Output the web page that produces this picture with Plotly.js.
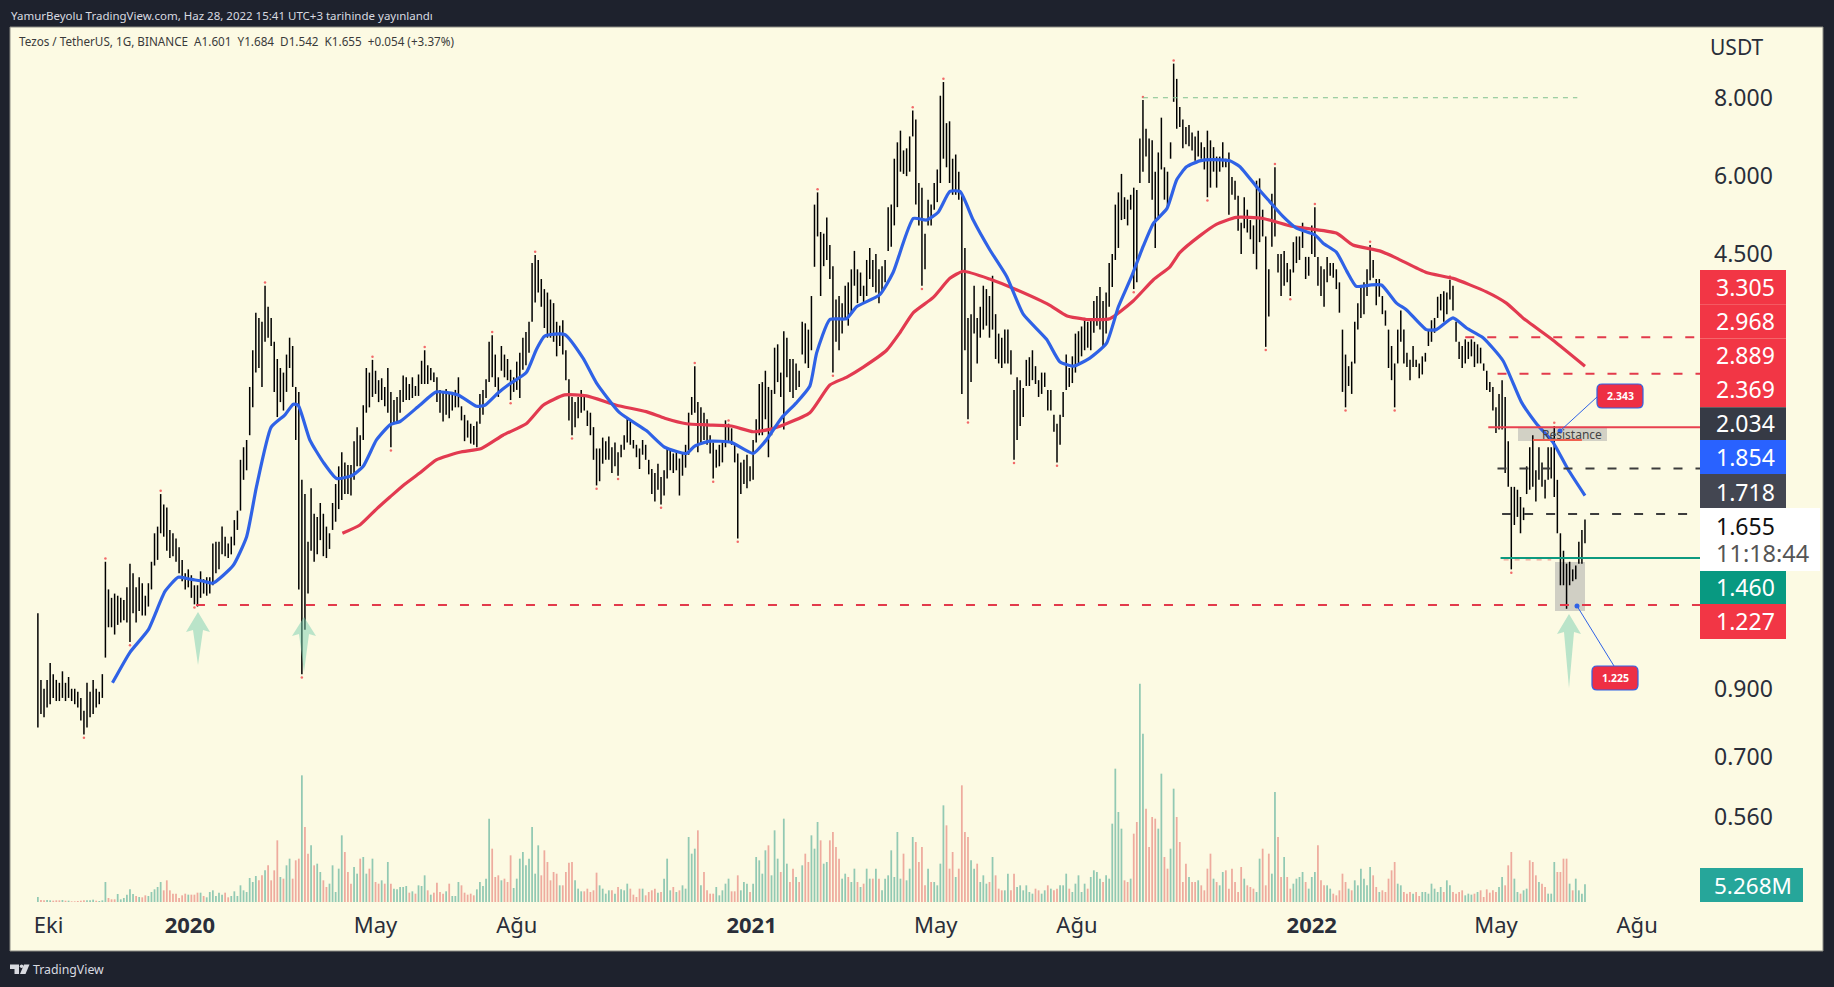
<!DOCTYPE html>
<html><head><meta charset="utf-8">
<script src="https://cdn.plot.ly/plotly-3.0.1.min.js"></script>
<style>html,body{margin:0;padding:0;background:#1e222d;overflow:hidden}</style>
</head><body><div id="chart" style="width:1834px;height:987px"></div>
<script>
// Two-day bars, starting 2019-09-24. High / low in USDT.
const highs = [
1.19,.93,.90,.93,.99,.95,.93,.92,.96,.92,
.94,.90,.90,.89,.87,.83,.92,.89,.93,.90,
.89,.95,1.44,1.30,1.26,1.28,1.27,1.26,1.25,1.31,
1.43,1.38,1.31,1.36,1.33,1.27,1.33,1.44,1.60,1.64,
1.85,1.78,1.76,1.62,1.60,1.57,1.52,1.45,1.38,1.40,
1.37,1.32,1.32,1.39,1.35,1.36,1.36,1.54,1.55,1.55,
1.64,1.58,1.54,1.58,1.68,1.74,2.10,2.20,2.26,2.75,
3.15,3.62,3.55,3.50,4.00,3.70,3.55,3.25,3.05,2.95,
2.90,3.10,3.30,3.20,2.75,2.70,1.95,1.85,1.55,1.89,
1.72,1.70,1.79,1.72,1.64,1.60,1.79,1.92,2.05,2.16,
2.08,2.06,2.06,2.25,2.37,2.30,2.57,2.95,2.90,3.04,
2.92,2.82,2.84,2.75,2.95,2.70,2.62,2.65,2.72,2.87,
2.85,2.78,2.85,2.76,2.88,
3.03,3.15,2.98,2.95,2.90,2.85,2.72,2.70,2.73,2.70,
2.70,2.72,2.85,2.56,2.48,2.43,2.40,2.38,2.42,2.68,
2.72,2.83,3.25,3.33,3.10,2.85,3.20,3.10,3.05,2.93,
2.85,3.02,3.12,3.30,3.37,3.50,4.35,4.48,4.40,4.10,
3.95,3.90,3.80,3.75,3.50,3.45,3.52,3.15,2.83,2.65,
2.60,2.65,2.72,2.65,2.52,2.50,2.37,2.19,2.19,2.28,
2.25,2.29,2.20,2.24,2.16,2.22,2.30,2.45,2.42,2.26,
2.22,2.19,2.26,2.22,2.10,2.03,2.00,2.07,1.97,2.02,
2.20,2.18,2.15,2.16,2.11,2.16,2.22,2.50,2.65,2.97,
2.60,2.55,2.50,2.44,2.30,2.24,2.18,2.22,2.26,2.43,
2.40,2.36,2.22,2.15,2.08,2.10,2.14,2.05,2.26,2.44,
2.78,2.80,2.92,2.75,2.72,3.18,3.22,2.90,3.38,3.30,
3.05,3.05,3.00,2.92,3.50,3.48,3.40,
3.85,5.40,5.65,4.88,4.85,5.15,4.65,4.30,3.80,3.85,
3.75,4.00,4.05,4.25,4.55,4.25,4.20,4.00,4.40,4.60,
4.40,4.50,4.25,4.30,4.40,5.35,5.40,6.40,6.80,7.10,
6.60,6.65,6.95,7.65,7.40,5.85,5.75,4.85,5.50,5.40,
5.85,6.15,8.08,8.50,7.30,7.35,6.40,6.50,6.10,5.60,
4.60,3.55,3.60,4.00,3.55,3.70,4.00,3.95,3.85,4.15,
3.60,3.35,3.30,3.40,3.40,3.15,2.72,2.85,2.82,2.74,
3.04,3.07,3.15,2.97,2.82,2.90,2.90,2.72,2.72,2.48,
2.40,2.48,2.70,3.10,2.95,3.08,3.35,3.38,3.44,3.55,
3.50,3.55,3.78,3.85,3.98,3.78,3.90,4.35,4.50,5.40,
5.65,6.05,5.55,5.50,5.60,5.75,5.70,6.90,7.95,7.15,
6.90,6.85,6.10,6.55,7.45,6.20,6.10,6.80,9.10,8.60,
7.75,7.40,7.20,7.25,7.05,6.95,7.10,
6.80,6.68,7.10,6.85,6.68,6.45,6.45,6.80,6.40,6.55,
5.98,5.90,5.58,5.05,5.55,5.30,5.10,5.00,5.90,5.95,
5.30,4.80,4.25,5.62,6.20,4.50,4.50,4.55,4.35,4.25,
4.70,4.80,4.80,5.05,4.45,4.45,5.00,5.35,4.45,4.30,
4.25,4.45,4.35,4.35,4.25,4.05,3.40,3.10,2.97,3.02,
3.50,3.75,4.00,4.05,4.25,4.65,4.40,4.10,4.10,3.85,
3.65,3.40,3.20,3.00,3.40,3.65,3.40,3.12,3.04,3.20,
3.04,3.00,3.08,3.12,3.40,3.52,3.55,3.84,3.88,3.92,
3.90,4.09,4.00,3.50,3.25,3.20,3.28,3.25,3.28,3.25,
3.22,3.18,3.00,2.92,2.80,2.75,2.55,2.68,2.82,2.65,
2.25,1.90,1.90,1.88,1.83,1.76,2.05,2.20,2.30,2.02,
2.20,2.08,1.95,2.20,2.20,2.38,1.95,1.60,1.50,1.43,
1.44,1.40,1.42,1.55,1.62,1.684];
const lows = [
.78,.82,.81,.84,.85,.87,.86,.86,.87,.86,
.87,.86,.85,.84,.80,.76,.78,.81,.82,.84,
.85,.87,1.01,1.13,1.13,1.10,1.14,1.15,1.16,1.15,
1.07,1.19,1.15,1.20,1.18,1.18,1.22,1.30,1.42,1.45,
1.60,1.58,1.50,1.46,1.47,1.44,1.38,1.34,1.30,1.31,
1.26,1.23,1.22,1.26,1.28,1.27,1.28,1.32,1.38,1.40,
1.48,1.47,1.46,1.48,1.53,1.62,1.74,1.95,2.02,2.30,
2.55,2.90,2.95,2.75,3.25,3.30,3.20,2.70,2.46,2.60,
2.52,2.70,2.95,2.75,2.26,1.30,.95,1.12,1.28,1.50,
1.44,1.48,1.56,1.47,1.46,1.51,1.62,1.67,1.75,1.81,
1.85,1.85,1.84,1.95,2.05,2.05,2.26,2.50,2.55,2.65,
2.68,2.60,2.62,2.56,2.50,2.20,2.40,2.42,2.50,2.60,
2.62,2.62,2.64,2.66,2.66,
2.78,2.78,2.78,2.82,2.80,2.60,2.50,2.42,2.48,2.45,
2.52,2.55,2.55,2.43,2.25,2.28,2.23,2.22,2.20,2.40,
2.48,2.64,2.80,2.85,2.75,2.65,2.92,2.85,2.82,2.62,
2.70,2.72,2.64,2.93,2.98,3.12,3.50,3.76,3.90,3.70,
3.42,3.30,3.30,3.25,3.08,3.20,3.10,2.82,2.43,2.30,
2.37,2.45,2.50,2.52,2.38,2.30,2.10,1.91,1.94,2.07,
2.10,2.10,2.00,2.05,1.98,2.12,2.18,2.24,2.22,2.19,
2.12,2.03,2.14,2.10,1.99,1.85,1.80,1.88,1.78,1.84,
1.96,2.02,2.00,2.02,1.84,1.98,2.04,2.14,2.48,2.50,
2.16,2.22,2.26,2.22,2.15,1.96,2.04,2.05,2.08,2.20,
2.24,2.22,2.08,1.57,1.85,1.92,1.89,1.94,1.95,2.24,
2.30,2.30,2.44,2.12,2.30,2.68,2.80,2.65,2.35,2.85,
2.70,2.64,2.72,2.75,3.10,3.00,2.95,
3.15,4.29,4.80,3.85,4.30,4.40,4.10,2.90,3.25,3.15,
3.35,3.55,3.45,3.60,4.00,3.75,3.85,3.75,3.85,4.10,
3.98,3.90,3.75,3.90,4.05,4.55,4.62,5.00,5.35,6.10,
6.05,6.00,6.10,6.95,5.40,5.00,4.00,4.25,5.00,5.00,
5.30,5.45,5.85,6.40,6.20,5.85,5.60,5.60,5.50,2.68,
3.15,2.44,2.80,3.35,3.00,3.30,3.40,3.45,3.30,3.40,
3.05,3.00,2.95,3.00,3.00,2.88,2.10,2.26,2.38,2.46,
2.76,2.76,2.82,2.78,2.65,2.68,2.75,2.52,2.52,2.33,
2.08,2.22,2.46,2.72,2.75,2.79,2.90,3.00,3.08,3.15,
3.18,3.15,3.36,3.45,3.40,3.20,3.35,3.70,3.98,4.40,
4.60,5.10,5.12,5.00,5.30,3.95,4.05,5.85,6.10,6.45,
5.85,5.50,4.60,5.10,6.15,5.50,5.35,6.40,7.90,7.15,
7.20,6.65,6.75,6.70,6.60,6.35,6.45,
6.40,6.15,5.55,5.75,6.10,5.75,6.10,6.20,6.20,5.20,
5.60,5.50,4.90,4.50,4.95,4.87,4.75,4.50,4.25,4.70,
4.80,3.19,3.57,4.62,4.80,4.20,3.85,4.00,4.05,3.85,
4.20,4.35,4.40,4.60,4.10,4.15,4.50,4.45,4.00,3.85,
3.70,4.05,4.15,4.12,3.95,3.62,2.70,2.55,2.76,2.68,
3.00,3.40,3.55,3.60,3.85,4.08,4.12,3.72,3.84,3.60,
3.45,2.95,2.82,2.55,3.00,3.25,3.00,2.96,2.82,2.96,
2.96,2.84,2.88,3.02,3.20,3.25,3.36,3.55,3.65,3.50,
3.60,3.80,3.65,3.25,3.05,2.95,3.00,3.05,3.08,2.96,
3.00,3.00,2.92,2.72,2.70,2.52,2.32,2.35,2.35,2.00,
1.90,1.40,1.65,1.70,1.60,1.68,1.85,1.88,1.90,1.80,
1.95,1.90,1.82,1.95,1.96,1.83,1.60,1.32,1.32,1.21,
1.32,1.34,1.35,1.43,1.43,1.542];
// Volume for the same bars, in units of 100 thousand.
const volumes = [
15,6,5,6,5,4,5,5,6,4,4,2,2,3,4,5,5,5,7,4,3,5,60,12,8,8,24,8,12,22,
38,24,18,15,14,20,18,30,38,45,60,35,65,35,25,25,12,20,25,22,22,22,28,28,18,14,30,35,18,28,
22,28,14,18,32,18,50,35,30,72,60,78,65,80,95,110,65,95,185,75,70,110,130,70,125,130,380,225,145,170,
110,115,90,65,45,55,110,30,100,200,150,90,55,105,85,130,135,85,100,130,60,55,65,55,120,55,40,38,45,45,
48,28,32,25,50,48,80,35,22,28,58,30,25,32,55,18,18,60,50,28,22,25,20,38,60,48,70,250,160,75,
80,65,70,60,140,42,70,130,150,110,130,225,85,170,80,155,120,
65,90,85,50,50,90,118,120,65,40,32,32,40,30,35,88,50,40,25,35,35,25,45,38,35,55,40,22,15,40,
40,20,30,35,40,28,30,70,130,35,45,30,35,50,40,195,145,160,215,50,90,35,25,25,45,20,35,55,70,32,
32,80,35,60,55,30,55,135,125,85,155,170,80,215,130,90,250,115,60,100,75,60,110,145,120,200,160,240,185,115,
120,185,210,165,130,70,85,75,60,100,60,45,55,100,70,70,100,70,35,70,80,155,75,210,70,145,65,100,195,180,
120,165,50,100,60,60,50,115,290,230,100,150,75,100,350,210,195,125,100,115,60,80,55,60,135,80,40,35,35,85,
35,85,45,50,35,50,30,25,40,35,25,35,50,40,35,40,50,50,85,40,
30,55,80,30,55,40,75,95,90,70,60,80,70,235,400,270,220,65,60,70,205,240,655,505,280,165,255,250,220,385,
135,100,160,340,255,180,60,115,75,60,60,65,50,35,100,145,70,60,50,90,95,40,100,60,30,105,70,50,45,40,
30,130,160,50,145,85,330,195,75,135,75,40,55,70,75,90,60,40,75,90,170,65,50,50,40,25,20,35,85,60,
40,35,65,50,100,70,50,105,80,45,30,35,30,70,95,120,55,50,30,25,30,25,30,18,30,30,25,55,40,30,
45,30,65,50,30,25,30,35,20,25,22,25,30,35,15,38,28,35,30,45,75,50,110,150,70,30,25,35,40,125,
120,80,60,55,45,25,25,120,90,90,130,130,55,35,70,35,25,53];
// Colours of the tall volume bars as seen in the picture; the others follow the bar's direction.
const volumeUpBars = [22,86,147,212,240,243,254,295,351,359,360,366,370,403];
const volumeDownBars = [78,87,148,215,288,301,358,361,371,480,486,487];
// Moving averages: position in two-day bars and value in USDT.
const blueBars = [24.3,30,36,41.4,45.7,49.5,53.9,57,63.6,68,71.2,76,80.5,83.2,84.8,88.6,93,97.3,102.2,106,110.3,114.7,118,124.4,
129.8,136.9,142.9,145.6,149.9,153.2,159.1,162.4,165.1,171.6,177.6,182,189.5,198.2,204.2,211.3,214,218.9,225.9,233,237.3,242.2,247,251.5,
253.7,258,263.4,266.7,274.3,278.6,285.2,289.5,293.3,297.1,300.4,304.7,310.1,315.6,321,328.6,332.9,337.3,342.7,348.1,352,356.3,360.1,363.4,367.8,371,374.2,378.5,
382.8,388.3,391.5,397,401.3,405.6,410,416,418.7,423,426.3,429.5,433.9,437.7,442.6,445.8,452.3,455.6,461,465.4,470.8,477.3,483.3,488.2,493.6,498.4,504];
const blueValues = [.92,1.03,1.12,1.29,1.36,1.35,1.34,1.33,1.42,1.58,1.90,2.37,2.48,2.58,2.57,2.26,2.08,1.96,1.98,2.05,2.26,2.39,2.42,2.57,
2.70,2.67,2.56,2.57,2.69,2.77,2.90,3.16,3.32,3.34,3.06,2.79,2.50,2.34,2.20,2.15,2.21,2.25,2.24,2.15,2.26,2.45,2.59,2.76,
3.12,3.53,3.54,3.70,3.87,4.20,5.13,5.10,5.25,5.67,5.67,5.10,4.57,4.14,3.60,3.28,3.02,2.97,3.06,3.23,3.70,4.14,4.63,5.04,5.32,5.92,6.21,6.35,
6.38,6.35,6.22,5.77,5.46,5.17,4.95,4.83,4.68,4.53,4.23,3.99,4.01,4.01,3.75,3.66,3.40,3.40,3.55,3.42,3.30,3.03,2.60,2.40,2.24,2.03,1.84];
const redBars = [99.2,104.9,110.3,114.7,119,124.4,129.8,137.4,144.5,151.5,159.1,164.6,171.6,178.7,188.5,198.2,204.2,211.3,217.8,225.9,233,238.4,243.8,251.5,
258,263.4,268.9,276.5,280.8,285.2,291.7,297.1,301.4,310.1,318.8,329.7,335.1,341.6,349.2,356.8,363.4,368.8,372,378.5,
383.9,390.4,399.1,408.9,423,428.4,437.1,442.6,452.3,461,471.9,478.4,483.8,493.6,504];
const redValues = [1.60,1.65,1.75,1.83,1.91,2.00,2.10,2.16,2.19,2.30,2.40,2.57,2.67,2.66,2.57,2.51,2.45,2.40,2.39,2.38,2.33,2.35,2.40,2.50,
2.77,2.85,2.96,3.15,3.36,3.62,3.83,4.11,4.22,4.10,3.94,3.72,3.58,3.53,3.54,3.78,4.09,4.29,4.52,4.81,
5.02,5.15,5.13,4.98,4.86,4.65,4.55,4.43,4.20,4.11,3.91,3.75,3.55,3.27,2.97];
// Small swing markers: bar positions.
const swingHighs = [22,40,74,109,126,148,162,214,225,254,285,295,360,370,403,416,434,460,494];
const swingLows = [15,30,51,86,115,154,174,182,189,203,220,228,259,288,303,318,332,357,381,400,408,426,442,480];
// Horizontal levels: value, start, end, colour, dash, width.
const levelValues = [3.305,2.889,2.369,2.034,1.718,1.46,1.227,8.02,2.26,1.45];
const levelStarts = ['2022-04-11','2022-05-02','2022-04-26','2022-05-02','2022-05-05','2022-05-04','2020-01-05','2021-09-13','2022-05-25','2022-05-06'];
const levelEnds = ['2022-09-11','2022-09-11','2022-09-11','2022-09-11','2022-09-03','2022-09-11','2022-09-11','2022-06-23','2022-06-26','2022-06-06'];
const levelColors = ['#e23a4b','#e23a4b','#e8404f','#3c3c3c','#3c3c3c','#0d9a80','#e23a4b','#7fc08f','#f0604f','#f08a80'];
const levelDashes = ['9px,13px','9px,13px','solid','9px,13px','9px,13px','solid','9px,13px','5px,5px','solid','5px,6px'];
const levelWidths = [2,2,2,2,2,2,2,1,2,1];
// Axis labels.
const xTickDates = ['2019-10-01','2020-01-01','2020-05-01','2020-08-01','2021-01-01','2021-05-01','2021-08-01','2022-01-01','2022-05-01','2022-08-01'];
const xTickText = ['Eki','<b>2020</b>','May','Ağu','<b>2021</b>','May','Ağu','<b>2022</b>','May','Ağu'];
const yTickValues = [0.56,0.7,0.9,4.5,6,8];
const yTickText = ['0.560','0.700','0.900','4.500','6.000','8.000'];
// Price-scale tags.
const tagText = ['3.305','2.968','2.889','2.369','2.034','1.854','1.718','1.460','1.227'];
const tagColor = ['#f23645','#f23645','#f23645','#f23645','#363a45','#2962ff','#434651','#089981','#f23645'];

const FONT='"Noto Sans",sans-serif';
const W=1834,H=987,L=10,R=1823,T=27,B=951;
const px=x=>(x-L)/(R-L), py=y=>(B-y)/(B-T);
const barDate=i=>new Date(Date.UTC(2019,8,24)+i*2*864e5).toISOString().slice(0,19).replace('T',' ');

// wick segments
const wx=[],wy=[];
highs.forEach((h,i)=>{const d=barDate(i);wx.push(d,d,null);wy.push(h,lows[i],null);});
const UP='#92c9b3',DOWN='#eeab9e';
const volColors=volumes.map((v,i)=>{
  if(volumeUpBars.includes(i))return UP;
  if(volumeDownBars.includes(i))return DOWN;
  return (i===0||highs[i]+lows[i]>=highs[i-1]+lows[i-1])?UP:DOWN;
});

const traces=[
 {type:'bar',x:volumes.map((v,i)=>barDate(i)),y:volumes,yaxis:'y2',width:1.15*864e5,marker:{color:volColors,line:{width:0}},hoverinfo:'skip'},
 {type:'scatter',mode:'lines',x:wx,y:wy,line:{color:'#000',width:1.5},hoverinfo:'skip',connectgaps:false},
 {type:'scatter',mode:'markers',x:swingHighs.map(barDate),y:swingHighs.map(i=>highs[i]*1.012),marker:{color:'#f26a6a',size:2.5},hoverinfo:'skip'},
 {type:'scatter',mode:'markers',x:swingLows.map(barDate),y:swingLows.map(i=>lows[i]*0.988),marker:{color:'#f26a6a',size:2.5},hoverinfo:'skip'},
 {type:'scatter',mode:'lines',x:redBars.map(barDate),y:redValues,line:{color:'#e23a50',width:3.2,shape:'spline',smoothing:.5},hoverinfo:'skip'},
 {type:'scatter',mode:'lines',x:blueBars.map(barDate),y:blueValues,line:{color:'#2f62e6',width:3.2,shape:'spline',smoothing:.5},hoverinfo:'skip'}
];
levelValues.forEach((v,i)=>traces.push({type:'scatter',mode:'lines',x:[levelStarts[i],levelEnds[i]],y:[v,v],
  line:{color:levelColors[i],dash:levelDashes[i],width:levelWidths[i]},hoverinfo:'skip'}));

const shapes=[];
const rect=(x0,y0,x1,y1,fill,layer)=>shapes.push({type:'rect',xref:'paper',yref:'paper',x0:px(x0),x1:px(x1),y0:py(y0),y1:py(y1),fillcolor:fill,line:{width:0},layer:layer||'above'});
const poly=(pts,fill)=>shapes.push({type:'path',xref:'paper',yref:'paper',path:'M'+pts.map(p=>px(p[0])+','+py(p[1])).join('L')+'Z',fillcolor:fill,line:{width:0},layer:'above'});
const seg=(x0,y0,x1,y1)=>shapes.push({type:'line',xref:'paper',yref:'paper',x0:px(x0),x1:px(x1),y0:py(y0),y1:py(y1),line:{color:'#2f62e6',width:1},layer:'above'});
const dot=(x,y)=>shapes.push({type:'circle',xref:'paper',yref:'paper',x0:px(x-2.5),x1:px(x+2.5),y0:py(y-2.5),y1:py(y+2.5),fillcolor:'#2f62e6',line:{width:0},layer:'above'});
const round=(x0,y0,x1,y1,r)=>shapes.push({type:'path',xref:'paper',yref:'paper',layer:'above',fillcolor:'#ee2f44',line:{color:'#2f62e6',width:1.2},
  path:`M${px(x0+r)},${py(y0)}L${px(x1-r)},${py(y0)}Q${px(x1)},${py(y0)} ${px(x1)},${py(y0+r)}L${px(x1)},${py(y1-r)}Q${px(x1)},${py(y1)} ${px(x1-r)},${py(y1)}L${px(x0+r)},${py(y1)}Q${px(x0)},${py(y1)} ${px(x0)},${py(y1-r)}L${px(x0)},${py(y0+r)}Q${px(x0)},${py(y0)} ${px(x0+r)},${py(y0)}Z`});

// grey zones
rect(1518,428,1607,441,'#d2d1c5','below');
rect(1555,562,1585,611,'#d0cfc4','below');
// arrows
const arrow=(cx,tip,headY,end,hw)=>poly([[cx,tip],[cx+hw,headY],[cx+5,headY-2],[cx,end],[cx-5,headY-2],[cx-hw,headY]],'rgba(120,205,175,0.5)');
arrow(198,612,632,665,12);
arrow(304,617,636,672,12);
arrow(1569,614,634,688,12);
// callouts
seg(1560,431,1597,397); seg(1577,606,1614,666);
dot(1560,431); dot(1577,606);
round(1597,384,1643,408,5);
round(1592,666,1638,690,5);
// price tags
const tagTop=[270,304.3,338.6,372.9,407.2,440,474,571,604];
const tagBot=[304.3,338.6,372.9,407.2,440,474,508,604,639];
tagText.forEach((t,i)=>rect(1700,tagTop[i],1786,tagBot[i],tagColor[i]));
rect(1700,508,1820,571,'#ffffff');
rect(1700,868,1803,902,'#26a69a');
// panel border
shapes.push({type:'rect',xref:'paper',yref:'paper',x0:0,x1:1,y0:0,y1:1,line:{color:'#8b8b84',width:1},layer:'above',fillcolor:'rgba(0,0,0,0)'});
// logo
const logoH=[[10,964.5],[19,964.5],[19,974],[14.5,974],[14.5,969],[10,969]];
shapes.push({type:'path',xref:'paper',yref:'paper',layer:'above',fillcolor:'#d8dae0',line:{width:0},
  path:'M'+logoH.map(p=>px(p[0])+','+py(p[1])).join('L')+'Z'});
shapes.push({type:'path',xref:'paper',yref:'paper',layer:'above',fillcolor:'#d8dae0',line:{width:0},
  path:'M'+[[24,964.5],[29.5,964.5],[25.5,974],[20,974]].map(p=>px(p[0])+','+py(p[1])).join('L')+'Z'});
shapes.push({type:'circle',xref:'paper',yref:'paper',layer:'above',fillcolor:'#d8dae0',line:{width:0},x0:px(19.8),x1:px(23.4),y0:py(964.5),y1:py(968.1)});

const ann=[];
const note=(text,x,y,o)=>ann.push(Object.assign({text,xref:'paper',yref:'paper',x:px(x),y:py(y),xanchor:'center',yanchor:'middle',showarrow:false,font:{family:FONT,size:23,color:'#fff'}},o||{}));
const tagCenterY=[287,321,355,389,423,457,492,587,621];
tagText.forEach((t,i)=>note(t,1745,tagCenterY[i]));
note('1.655',1745,526,{font:{family:FONT,size:23,color:'#111'}});
note('11:18:44',1762,553,{font:{family:FONT,size:23.5,color:'#555'}});
note('5.268M',1753,885,{font:{family:FONT,size:22.5,color:'#fff'}});
note('USDT',1737,47,{font:{family:FONT,size:21,color:'#2a2e39'}});
note('<b>2.343</b>',1620,396,{font:{family:FONT,size:10.5,color:'#fff'}});
note('<b>1.225</b>',1615,678,{font:{family:FONT,size:10.5,color:'#fff'}});
note('Resistance',1572,434,{font:{family:FONT,size:12,color:'#444'}});
note('YamurBeyolu TradingView.com, Haz 28, 2022 15:41 UTC+3 tarihinde yayınlandı',9,15,{xanchor:'left',font:{family:FONT,size:11.5,color:'#d8dae0'}});
note('Tezos / TetherUS, 1G, BINANCE&nbsp;&nbsp;A1.601&nbsp;&nbsp;Y1.684&nbsp;&nbsp;D1.542&nbsp;&nbsp;K1.655&nbsp;&nbsp;+0.054 (+3.37%)',16.5,41.5,{xanchor:'left',font:{family:FONT,size:11.7,color:'#3a3a3a'}});
note('TradingView',31,969,{xanchor:'left',font:{family:FONT,size:12.3,color:'#d8dae0'}});

const layout={
 width:W,height:H,autosize:false,showlegend:false,barmode:'overlay',
 margin:{l:L,r:W-R,t:T,b:H-B,pad:0},
 paper_bgcolor:'#1e222d',plot_bgcolor:'#fcfae3',
 font:{family:FONT,color:'#2a2e39'},
 xaxis:{type:'date',range:['2019-09-05 20:00','2022-11-30 02:00'],anchor:'free',position:(B-909.5)/(B-T),
  showgrid:false,zeroline:false,showline:false,ticks:'',tickmode:'array',tickvals:xTickDates,ticktext:xTickText,
  tickangle:0,tickfont:{family:FONT,size:22,color:'#2a2e39'}},
 yaxis:{type:'log',range:[Math.log10(0.341),Math.log10(10.42)],anchor:'free',position:px(1713),side:'right',
  showgrid:false,zeroline:false,showline:false,ticks:'',tickmode:'array',tickvals:yTickValues,ticktext:yTickText,
  tickfont:{family:FONT,size:23,color:'#2a2e39'}},
 yaxis2:{overlaying:'y',range:[-147,2625],visible:false,fixedrange:true,side:'left'},
 shapes,annotations:ann
};
Plotly.newPlot('chart',traces,layout,{staticPlot:true,displayModeBar:false});
</script></body></html>
